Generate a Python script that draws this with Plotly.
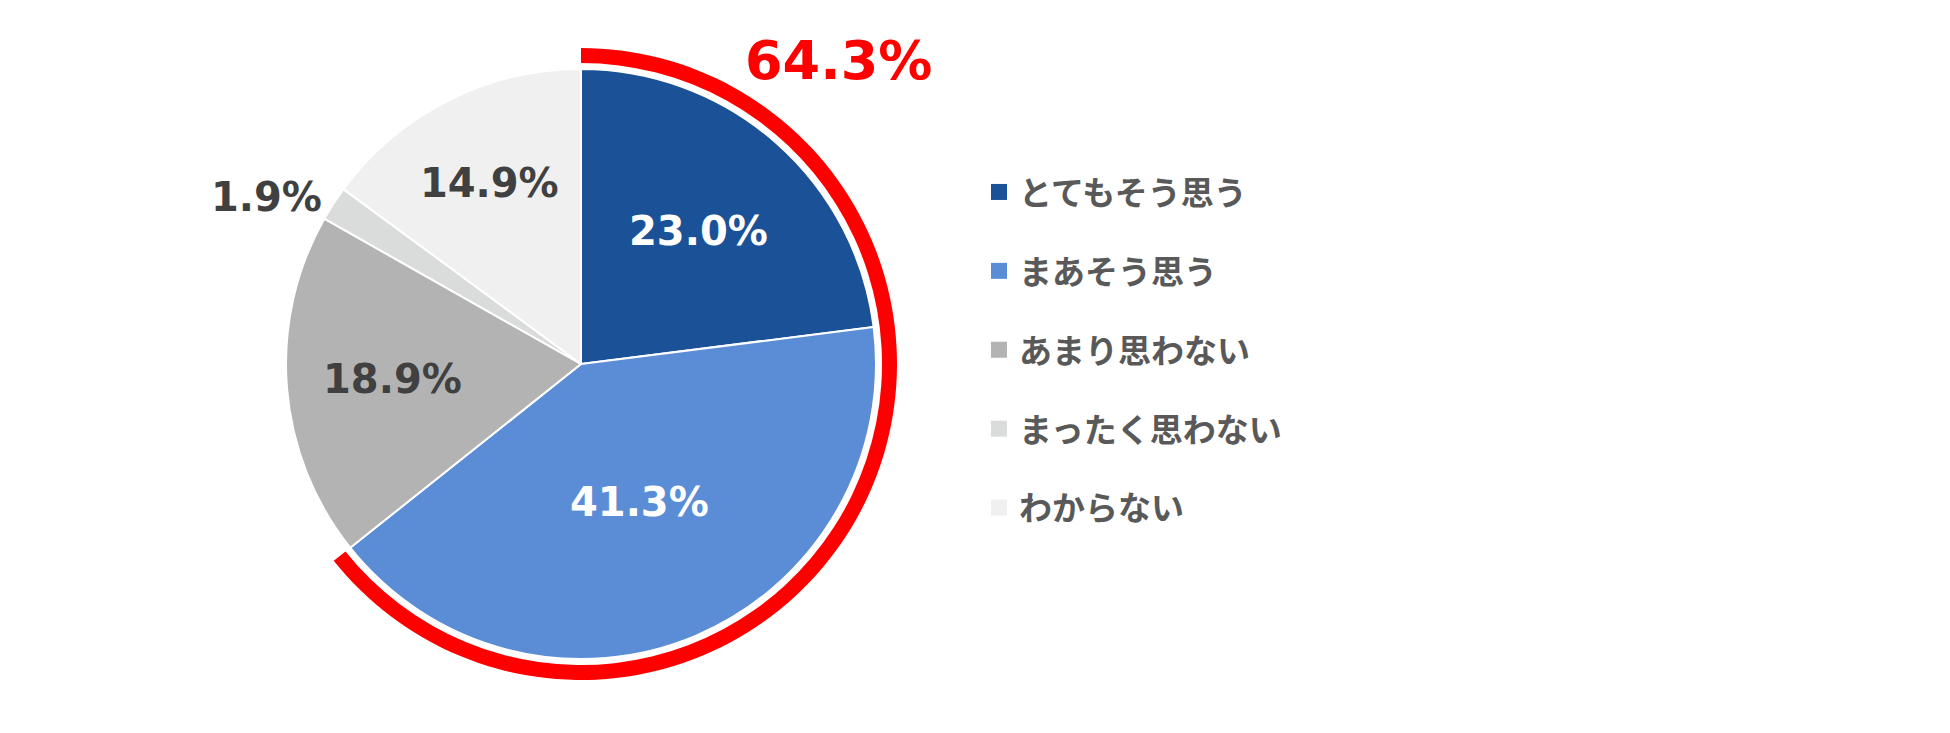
import plotly.graph_objects as go

W, H = 1950, 733

labels = ['とてもそう思う', 'まあそう思う', 'あまり思わない', 'まったく思わない', 'わからない']
values = [23.0, 41.3, 18.9, 1.9, 14.9]
colors = ['#1B5196', '#5B8DD6', '#B3B3B3', '#DADBDB', '#EFF0EF']
text_colors = ['white', 'white', '#404040', '#404040', '#404040']
text_pos = ['inside', 'inside', 'inside', 'outside', 'inside']

# とてもそう思う + まあそう思う
agree_total = 64.3
ring_values = [agree_total, 100 - agree_total]
ring_colors = ['#FF0000', 'rgba(0,0,0,0)']

CX, CY = 573, 356


def square_domain(cx, cy, r):
    # pixel centre/radius -> paper domain
    return dict(x=[(cx - r) / W, (cx + r) / W],
                y=[(H - cy - r) / H, (H - cy + r) / H])


fig = go.Figure()

fig.add_trace(
    go.Pie(
        labels=labels, values=values, sort=False, direction='clockwise', rotation=0,
        marker=dict(colors=colors, line=dict(color='white', width=2)),
        texttemplate='%{value:.1f}%', textposition=text_pos,
        insidetextorientation='horizontal',
        textfont=dict(family='DejaVu Sans', size=40, color=text_colors, weight='bold'),
        domain=square_domain(CX, CY, 295),
        showlegend=False, hoverinfo='label+percent',
    )
)

fig.add_trace(
    go.Pie(
        values=ring_values, sort=False, direction='clockwise', rotation=0,
        hole=301 / 316,
        marker=dict(colors=ring_colors, line=dict(width=0)),
        textinfo='none', hoverinfo='skip',
        domain=square_domain(CX, CY, 316),
        showlegend=False,
    )
)

# legend entries (square swatches)
for lab, col in zip(labels, colors):
    fig.add_trace(
        go.Scatter(
            x=[None], y=[None], mode='markers', name=lab, legendgroup=lab,
            marker=dict(symbol='square', size=20, color=col),
        )
    )

fig.add_annotation(
    x=830 / W, y=1 - 52 / H, xref='paper', yref='paper',
    xanchor='center', yanchor='middle',
    text=f'{agree_total}%', showarrow=False,
    font=dict(family='DejaVu Sans', size=54, color='#FF0000', weight='bold'),
)

fig.update_xaxes(visible=False)
fig.update_yaxes(visible=False)

fig.update_layout(
    width=W, height=H,
    margin=dict(l=0, r=0, t=0, b=0),
    paper_bgcolor='white',
    plot_bgcolor='white',
    uniformtext=dict(minsize=40, mode='show'),
    legend=dict(
        x=971 / W, y=1 - 156 / H, xanchor='left', yanchor='top',
        font=dict(family='Noto Sans CJK JP', size=33, color='#595959', weight='bold'),
        tracegroupgap=33,
        itemsizing='trace',
    ),
)

fig.write_html("out.html")
